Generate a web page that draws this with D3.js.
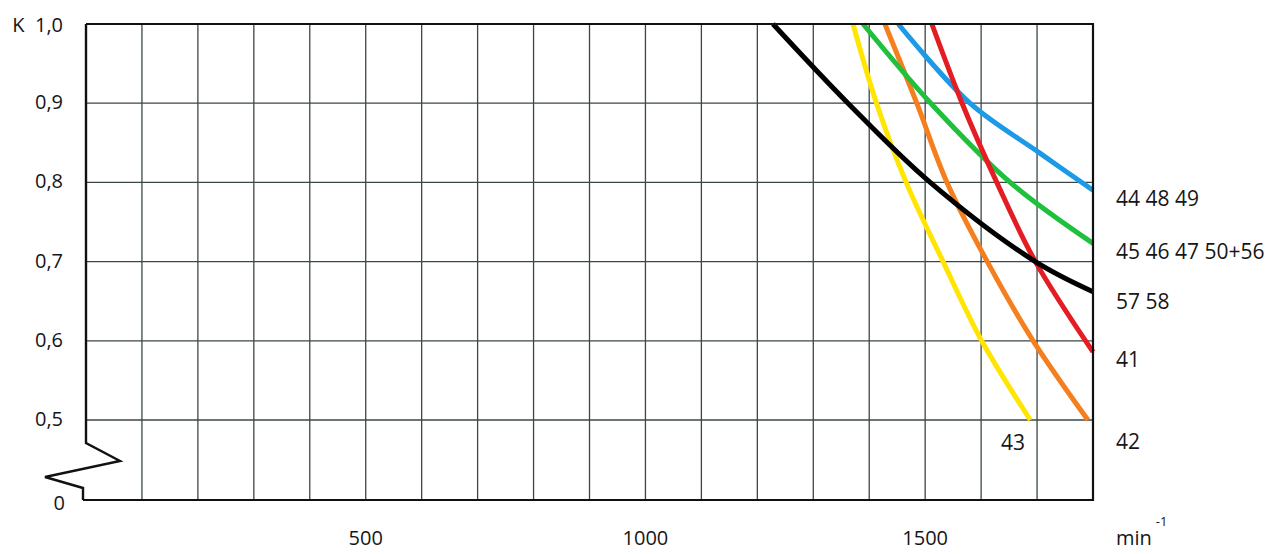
<!DOCTYPE html>
<html lang="en">
<head>
<meta charset="utf-8">
<title>K - min-1</title>
<script src="https://cdn.jsdelivr.net/npm/d3@7"></script>
<style>
  body { margin: 0; background: #fff; }
  text { font-family: "Open Sans", sans-serif; fill: #161616; }
</style>
</head>
<body>
<div id="chart"></div>
<script>

// speed in min-1 and the factor K
var rpm44 = [1452, 1580, 1705, 1800];
var k44   = [1.0, 0.9, 0.837, 0.79];

var rpm45 = [1389, 1510, 1652, 1800];
var k45   = [1.0, 0.9, 0.8, 0.723];

var rpm57 = [1228, 1362, 1509, 1697, 1800];
var k57   = [1.0, 0.9, 0.8, 0.7, 0.662];

var rpm41 = [1512, 1566, 1628, 1697, 1800];
var k41   = [1.0, 0.9, 0.8, 0.7, 0.586];

var rpm42 = [1428, 1485, 1539, 1611, 1693, 1791];
var k42   = [1.0, 0.9, 0.8, 0.7, 0.6, 0.5];

var rpm43 = [1371, 1413, 1466, 1532, 1601, 1688];
var k43   = [1.0, 0.9, 0.8, 0.7, 0.6, 0.5];

var curveNames = ["43", "42", "45 46 47 50+56", "44 48 49", "41", "57 58"];

// axis ticks
var rpmLabels = [500, 1000, 1500];
var rpmGrid   = d3.range(100, 1800, 100);
var kGrid     = [0.5, 0.6, 0.7, 0.8, 0.9];

// styles / layout
var colors = {
  "43": "#ffe500",
  "42": "#f57f1f",
  "45 46 47 50+56": "#1ec03c",
  "44 48 49": "#1d9ae6",
  "41": "#e41d25",
  "57 58": "#000000"
};
// label placement in pixels (x, baseline)
var labelPos = {
  "44 48 49": [1116, 206],
  "45 46 47 50+56": [1116, 259],
  "57 58": [1116, 309],
  "41": [1116, 367],
  "42": [1116, 449],
  "43": [1001, 450]
};

var pts = {
  "43": d3.zip(rpm43, k43),
  "42": d3.zip(rpm42, k42),
  "45 46 47 50+56": d3.zip(rpm45, k45),
  "44 48 49": d3.zip(rpm44, k44),
  "41": d3.zip(rpm41, k41),
  "57 58": d3.zip(rpm57, k57)
};

var width = 1285, height = 554;

var svg = d3.select("#chart")
  .append("svg")
    .attr("width", width)
    .attr("height", height);

svg.append("rect").attr("width", width).attr("height", height).attr("fill", "#fff");

// x: speed, y: K with a broken axis between 0 and 0,5
var x = d3.scaleLinear().domain([0, 1800]).range([86, 1093]);
var y = d3.scaleLinear().domain([0, 0.5, 1.0]).range([500, 420, 24]);

// grid
svg.append("g")
  .selectAll("line")
  .data(rpmGrid)
  .enter().append("line")
    .attr("x1", function(d) { return x(d); })
    .attr("x2", function(d) { return x(d); })
    .attr("y1", y(1.0))
    .attr("y2", y(0))
    .attr("stroke", "#3b4747")
    .attr("stroke-width", 1.3);

svg.append("g")
  .selectAll("line")
  .data(kGrid)
  .enter().append("line")
    .attr("x1", x(0))
    .attr("x2", x(1800))
    .attr("y1", function(d) { return y(d); })
    .attr("y2", function(d) { return y(d); })
    .attr("stroke", "#3b4747")
    .attr("stroke-width", 1.3);

// curves
var line = d3.line()
  .x(function(d) { return x(d[0]); })
  .y(function(d) { return y(d[1]); })
  .curve(d3.curveCatmullRom.alpha(0.5));

svg.append("g")
  .selectAll("path")
  .data(curveNames)
  .enter().append("path")
    .attr("d", function(d) { return line(pts[d]); })
    .attr("fill", "none")
    .attr("stroke", function(d) { return colors[d]; })
    .attr("stroke-width", 5);

// frame: top, right, bottom
svg.append("path")
  .attr("d", "M" + x(0) + "," + y(1.0) + "H" + x(1800) + "V" + y(0) + "H" + (x(0) - 3))
  .attr("fill", "none")
  .attr("stroke", "#111")
  .attr("stroke-width", 2.2);

// left axis with the break symbol
var bx = x(0), by = 443;
svg.append("path")
  .attr("d", "M" + bx + "," + y(1.0) + "V" + by +
             "L" + (bx + 34) + "," + (by + 18) +
             "L" + (bx - 41) + "," + (by + 34) +
             "L" + (bx - 3) + "," + (by + 45) +
             "V" + y(0))
  .attr("fill", "none")
  .attr("stroke", "#111")
  .attr("stroke-width", 2.4)
  .attr("stroke-linejoin", "miter");

// y labels
svg.append("g")
  .selectAll("text")
  .data(kGrid)
  .enter().append("text")
    .attr("x", 63)
    .attr("y", function(d) { return y(d) + 6; })
    .attr("text-anchor", "end")
    .attr("font-size", 20)
    .text(function(d) { return d3.format(".1f")(d).replace(".", ","); });

svg.append("text")
  .attr("x", 63).attr("y", y(1.0) + 8)
  .attr("text-anchor", "end")
  .attr("font-size", 20)
  .text("K\u00a0\u00a01,0");

svg.append("text")
  .attr("x", 65).attr("y", y(0) + 10)
  .attr("text-anchor", "end")
  .attr("font-size", 20)
  .text("0");

// x labels
svg.append("g")
  .selectAll("text")
  .data(rpmLabels)
  .enter().append("text")
    .attr("x", function(d) { return x(d); })
    .attr("y", 545)
    .attr("text-anchor", "middle")
    .attr("font-size", 20)
    .text(function(d) { return d; });

var unit = svg.append("text")
  .attr("x", 1116).attr("y", 545)
  .attr("font-size", 20);
unit.append("tspan").text("min");
unit.append("tspan").attr("dx", 4).attr("dy", -19).attr("font-size", 13).text("-1");

// curve labels
svg.append("g")
  .selectAll("text")
  .data(curveNames)
  .enter().append("text")
    .attr("x", function(d) { return labelPos[d][0]; })
    .attr("y", function(d) { return labelPos[d][1]; })
    .attr("font-size", 21)
    .text(function(d) { return d; });

</script>
</body>
</html>
